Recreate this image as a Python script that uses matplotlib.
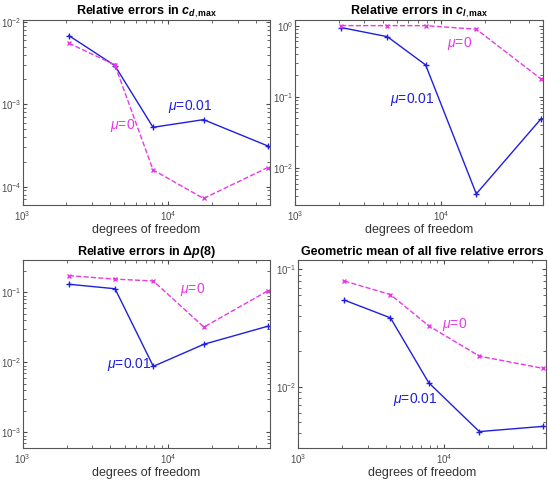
import matplotlib
matplotlib.use("Agg")
import matplotlib.pyplot as plt
import numpy as np

plt.rcParams["font.family"] = ["Liberation Sans", "DejaVu Sans"]
plt.rcParams["mathtext.fontset"] = "custom"
plt.rcParams["mathtext.rm"] = "Liberation Sans"
plt.rcParams["mathtext.it"] = "Liberation Sans:italic"
plt.rcParams["mathtext.bf"] = "Liberation Sans:bold"
plt.rcParams["mathtext.bfit"] = "Liberation Sans:bold:italic"

# degrees of freedom
dof = [2075, 4300, 7870, 17500, 48200]

# relative errors, mu = 0.01 (blue) and mu = 0 (magenta)
cd_mu001 = [6.8e-3, 2.94e-3, 5.25e-4, 6.5e-4, 3.13e-4]
cd_mu0 = [5.5e-3, 3.0e-3, 1.6e-4, 7.2e-5, 1.7e-4]
cl_mu001 = [0.94, 0.70, 0.28, 4.3e-3, 0.048]
cl_mu0 = [1.0, 1.0, 1.0, 0.89, 0.18]
dp_mu001 = [0.131, 0.113, 8.8e-3, 0.0182, 0.033]
dp_mu0 = [0.174, 0.155, 0.146, 0.032, 0.106]
gm_mu001 = [0.0547, 0.0386, 0.0108, 4.14e-3, 4.59e-3]
gm_mu0 = [0.0796, 0.061, 0.033, 0.0182, 0.0143]

titles = [r"Relative errors in $\mathbfit{c}_{\mathbfit{d},\mathbf{max}}$",
          r"Relative errors in $\mathbfit{c}_{\mathbfit{l},\mathbf{max}}$",
          r"Relative errors in $\mathbf{\Delta}\mathbfit{p}$(8)",
          "Geometric mean of all five relative errors"]

panels = [
    (cd_mu001, cd_mu0, (6e-5, 1.05e-2), (1.0e4, 9.5e-4), (4.0e3, 5.5e-4)),
    (cl_mu001, cl_mu0, (3e-3, 1.2), (4.5e3, 0.092), (1.11e4, 0.56)),
    (dp_mu001, dp_mu0, (6e-4, 0.29), (3.8e3, 9.2e-3), (1.2e4, 0.109)),
    (gm_mu001, gm_mu0, (3e-3, 0.12), (4.5e3, 7.7e-3), (9.75e3, 0.0336)),
]

positions = [[0.0414, 0.5756, 0.451, 0.383],
             [0.538, 0.5756, 0.4526, 0.383],
             [0.0414, 0.0725, 0.452, 0.389],
             [0.544, 0.0725, 0.452, 0.389]]

blue = "#1f1fe0"
mag = "#e838e8"
grey = "#4d4d4d"

fig = plt.figure(figsize=(5.48, 4.83), dpi=100)
for pos, title, (e1, e0, ylim, t1, t0) in zip(positions, titles, panels):
    ax = fig.add_axes(pos)
    ax.plot(dof, e1, "-", color=blue, marker="+", ms=5, lw=1)
    ax.plot(dof, e0, "--", color=mag, marker="x", ms=3.5, lw=1)
    ax.set_xscale("log")
    ax.set_yscale("log")
    ax.set_xlim(1e3, 5e4)
    ax.set_ylim(*ylim)
    ax.set_xticks([1e3, 1e4])
    ax.text(t1[0], t1[1], r"$\mu$=0.01", color=blue, fontsize=10, va="center")
    ax.text(t0[0], t0[1], r"$\mu$=0", color=mag, fontsize=10, va="center")
    ax.set_title(title, fontsize=9, fontweight="bold", pad=4)
    ax.set_xlabel("degrees of freedom", fontsize=9, color="#333333", labelpad=1)
    ax.tick_params(which="both", direction="in", top=True, right=True,
                   labelsize=7, colors=grey, labelcolor=grey)
    ax.tick_params(which="major", length=3)
    ax.tick_params(which="minor", length=2)
    ax.tick_params(axis="x", pad=3)
    ax.tick_params(axis="y", pad=1)
    for s in ax.spines.values():
        s.set_color("#555555")
        s.set_linewidth(0.8)

fig.savefig("out.png", dpi=100)
